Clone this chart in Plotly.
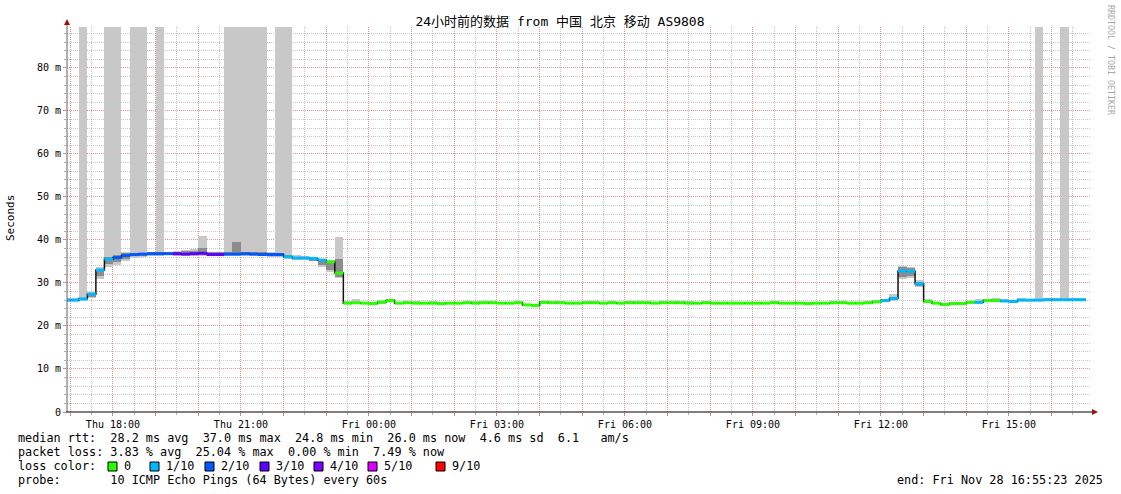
import plotly.graph_objects as go
from datetime import datetime, timedelta

# ---------------- data ----------------
end_time = datetime(2025, 11, 28, 16, 55, 23)
start_time = end_time - timedelta(hours=24)
first_bin = datetime(2025, 11, 27, 16, 48)
step_minutes = 12

median_ms = [
    26.0, 26.0, 26.3, 27.4, 33.0, 35.5, 35.9, 36.4, 36.6, 36.7,
    36.8, 36.8, 36.8, 36.8, 36.7, 36.8, 36.9, 36.6, 36.6, 36.7,
    36.7, 36.8, 36.7, 36.6, 36.6, 36.6, 36.1, 35.8, 35.8, 35.7,
    35.3, 34.9, 32.3, 25.3, 25.4, 25.3, 25.2, 25.5, 25.9, 25.3,
    25.4, 25.3, 25.3, 25.3, 25.2, 25.3, 25.3, 25.4, 25.3, 25.4,
    25.4, 25.3, 25.3, 25.4, 24.9, 24.8, 25.5, 25.4, 25.4, 25.3,
    25.3, 25.4, 25.4, 25.3, 25.4, 25.3, 25.4, 25.4, 25.4, 25.3,
    25.4, 25.4, 25.4, 25.3, 25.3, 25.4, 25.3, 25.3, 25.3, 25.3,
    25.3, 25.3, 25.3, 25.4, 25.3, 25.3, 25.3, 25.2, 25.3, 25.3,
    25.4, 25.4, 25.3, 25.3, 25.4, 25.6, 25.9, 26.4, 32.8, 32.7,
    29.8, 25.7, 25.3, 25.0, 25.2, 25.2, 25.5, 25.5, 25.9, 25.9,
    25.8, 25.7, 26.0, 26.0, 26.0, 26.1, 26.1, 26.1, 26.1, 26.1,
]

loss_tenths = [
    1, 1, 1, 1, 1, 1, 2, 2, 2, 2,
    2, 2, 2, 3, 3, 3, 3, 3, 3, 2,
    2, 2, 2, 2, 2, 2, 1, 1, 1, 1,
    1, 0, 0, 0, 0, 0, 0, 0, 0, 0,
    0, 0, 0, 0, 0, 0, 0, 0, 0, 0,
    0, 0, 0, 0, 0, 0, 0, 0, 0, 0,
    0, 0, 0, 0, 0, 0, 0, 0, 0, 0,
    0, 0, 0, 0, 0, 0, 0, 0, 0, 0,
    0, 0, 0, 0, 0, 0, 0, 0, 0, 0,
    0, 0, 0, 0, 0, 0, 1, 1, 1, 1,
    1, 0, 0, 0, 0, 0, 0, 1, 0, 0,
    1, 1, 1, 1, 1, 1, 1, 1, 1, 1,
]

# light smoke (full ping spread); 100 = outlier above the visible range
smoke_lo = [
    25.8, 25.7, 25.9, 26.4, 30.9, 33.8, 34.2, 35.0, 35.8, 36.0,
    36.2, 36.3, 36.4, 36.3, 36.2, 36.2, 36.3, 36.2, 36.2, 36.2,
    36.2, 36.2, 36.2, 36.2, 36.1, 36.1, 35.6, 35.3, 35.3, 35.0,
    33.8, 32.6, 31.1, 25.0, 25.1, 25.0, 25.0, 25.2, 25.5, 25.0,
    25.1, 25.0, 25.0, 25.0, 25.0, 25.0, 25.0, 25.1, 25.0, 25.1,
    25.1, 25.0, 25.0, 25.1, 24.6, 24.5, 25.2, 25.1, 25.1, 25.0,
    25.0, 25.1, 25.1, 25.0, 25.1, 25.0, 25.1, 25.1, 25.1, 25.0,
    25.1, 25.1, 25.1, 25.0, 25.0, 25.1, 25.0, 25.0, 25.0, 25.0,
    25.0, 25.0, 25.0, 25.1, 25.0, 25.0, 25.0, 25.0, 25.0, 25.0,
    25.1, 25.1, 25.0, 25.0, 25.1, 25.3, 25.5, 25.9, 30.9, 31.2,
    29.0, 25.4, 25.0, 24.8, 25.0, 25.0, 25.2, 25.2, 25.6, 25.6,
    25.5, 25.4, 25.7, 25.7, 25.7, 25.8, 25.8, 25.8, 25.8, 25.8,
]
smoke_hi = [
    26.4, 26.6, 100, 27.9, 33.6, 100, 100, 37.2, 100, 100,
    37.2, 100, 37.3, 37.4, 37.6, 38.0, 41.0, 37.3, 37.3, 100,
    100, 100, 100, 100, 37.2, 100, 100, 36.4, 36.2, 36.0,
    35.6, 35.4, 40.7, 25.8, 26.2, 25.6, 25.5, 26.0, 26.2, 25.6,
    25.7, 25.7, 25.6, 25.8, 25.5, 25.6, 25.6, 25.9, 25.7, 25.8,
    25.7, 25.6, 25.6, 25.7, 25.2, 25.1, 25.8, 25.7, 25.9, 25.6,
    25.6, 25.7, 25.7, 25.6, 25.7, 25.6, 25.7, 25.8, 25.7, 25.6,
    25.7, 25.7, 25.7, 25.8, 25.6, 25.7, 25.6, 25.6, 25.6, 25.6,
    25.6, 25.6, 25.6, 25.7, 25.6, 25.6, 25.6, 25.5, 25.6, 25.6,
    25.7, 25.7, 25.6, 25.6, 25.8, 26.0, 26.3, 27.4, 34.0, 33.8,
    30.6, 26.3, 25.6, 25.3, 25.5, 25.5, 25.8, 26.2, 26.2, 26.4,
    26.2, 26.0, 26.4, 26.3, 100, 26.4, 26.4, 100, 26.4, 26.4,
]
# darker core of the smoke
core_lo = [
    None, 25.9, 26.0, 26.8, 31.6, 34.4, 34.8, 35.5, 36.2, 36.3,
    36.4, 36.5, 36.5, 36.5, 36.4, 36.4, 36.5, 36.4, 36.4, 36.4,
    36.4, 36.4, 36.4, 36.4, 36.3, 36.3, 35.8, 35.5, None, 35.2,
    34.2, 33.0, 31.5, None, None, None, None, None, None, None,
    None, None, None, None, None, None, None, None, None, None,
    None, None, None, None, None, None, None, None, None, None,
    None, None, None, None, None, None, None, None, None, None,
    None, None, None, None, None, None, None, None, None, None,
    None, None, None, None, None, None, None, None, None, None,
    None, None, None, None, None, None, None, 26.1, 31.3, 31.6,
    29.3, None, None, None, None, None, None, None, None, None,
    None, None, None, None, None, None, None, None, None, None,
]
core_hi = [
    None, 26.3, 26.6, 27.7, 33.3, 36.0, 36.6, 36.9, 37.0, 37.0,
    37.1, 37.1, 37.1, 37.2, 37.4, 37.5, 38.1, 37.1, 37.1, 37.1,
    39.5, 37.2, 37.1, 37.1, 37.0, 37.0, 36.5, 36.1, None, 35.9,
    35.5, 35.2, 35.5, None, None, None, None, None, None, None,
    None, None, None, None, None, None, None, None, None, None,
    None, None, None, None, None, None, None, None, None, None,
    None, None, None, None, None, None, None, None, None, None,
    None, None, None, None, None, None, None, None, None, None,
    None, None, None, None, None, None, None, None, None, None,
    None, None, None, None, None, None, None, 26.8, 33.6, 33.4,
    30.3, None, None, None, None, None, None, None, None, None,
    None, None, None, None, None, None, None, None, None, None,
]

loss_colors = {0: "#26ff00", 1: "#00b8ff", 2: "#0059ff", 3: "#5e00ff",
               4: "#7e00ff", 5: "#dd00ff", 9: "#ff0000"}
legend_losses = [0, 1, 2, 3, 4, 5, 9]

x_tick_labels = ["Thu 18:00", "Thu 21:00", "Fri 00:00", "Fri 03:00",
                 "Fri 06:00", "Fri 09:00", "Fri 12:00", "Fri 15:00"]
y_tick_values = [0, 10, 20, 30, 40, 50, 60, 70, 80]

title_text = "24小时前的数据 from 中国 北京 移动 AS9808"
stats_rtt = "median rtt:  28.2 ms avg  37.0 ms max  24.8 ms min  26.0 ms now  4.6 ms sd  6.1   am/s"
stats_loss = "packet loss: 3.83 % avg  25.04 % max  0.00 % min  7.49 % now"
probe_text = "probe:       10 ICMP Echo Pings (64 Bytes) every 60s"
end_text = "end: Fri Nov 28 16:55:23 2025"

# ---------------- geometry ----------------
W, H = 1121, 494
ML, MR, MT, MB = 67, 30, 27, 82
PW, PH = W - ML - MR, H - MT - MB
Y_MAX = 89.5
MONO = "DejaVu Sans Mono"


def px(xp):
    return (xp - ML) / PW


def py(yp):
    return (H - MB - yp) / PH


n = len(median_ms)
bin_starts = [first_bin + timedelta(minutes=step_minutes * i) for i in range(n)]
bin_ends = [b + timedelta(minutes=step_minutes) for b in bin_starts]
bin_centers = [b + timedelta(minutes=step_minutes / 2) for b in bin_starts]
bin_width_ms = step_minutes * 60 * 1000

fig = go.Figure()

# light smoke
fig.add_trace(go.Bar(
    x=bin_centers, base=smoke_lo,
    y=[h - l for h, l in zip(smoke_hi, smoke_lo)],
    width=bin_width_ms, marker=dict(color="#c8c8c8", line=dict(width=0)),
    hoverinfo="skip", showlegend=False))
# dark core
fig.add_trace(go.Bar(
    x=bin_centers, base=core_lo,
    y=[(h - l) if h is not None else None for h, l in zip(core_hi, core_lo)],
    width=bin_width_ms, marker=dict(color="#8c8c8c", line=dict(width=0)),
    hoverinfo="skip", showlegend=False))
# black step line connecting medians
fig.add_trace(go.Scatter(
    x=bin_starts + [bin_ends[-1]],
    y=median_ms + [median_ms[-1]],
    mode="lines", line=dict(color="#111111", width=1.5, shape="hv"),
    hoverinfo="skip", showlegend=False))
# coloured median segments, one trace per loss level
for lv, col in loss_colors.items():
    xs, ys = [], []
    for s, e, m, l in zip(bin_starts, bin_ends, median_ms, loss_tenths):
        if l == lv:
            xs += [s, e, None]
            ys += [m, m, None]
    if xs:
        fig.add_trace(go.Scatter(
            x=xs, y=ys, mode="lines", line=dict(color=col, width=3),
            hoverinfo="skip", showlegend=False))

# hourly ticks with labels every 3 hours
hour_ticks = []
t = start_time.replace(minute=0, second=0) + timedelta(hours=1)
while t < end_time:
    hour_ticks.append(t)
    t += timedelta(hours=1)
label_iter = iter(x_tick_labels)
hour_text = []
for t in hour_ticks:
    hour_text.append(next(label_iter) if t.hour % 3 == 0 else "")

red_grid = "rgba(235,120,120,0.65)"
gray_grid = "rgba(170,170,170,0.65)"
red_tick = "#e08080"
gray_tick = "#b0b0b0"

fig.update_layout(
    width=W, height=H, barmode="overlay", bargap=0,
    margin=dict(l=ML, r=MR, t=MT, b=MB),
    paper_bgcolor="white", plot_bgcolor="white",
    font=dict(family=MONO, size=10, color="#000"),
    showlegend=False,
    title=dict(text=title_text, x=560 / W, xanchor="center", y=1 - 21 / H,
               yanchor="middle", yref="container",
               font=dict(family=MONO + ", Noto Sans CJK SC", size=13, color="#000")),
    xaxis=dict(
        type="date", range=[start_time, end_time],
        tickmode="array", tickvals=hour_ticks, ticktext=hour_text,
        showgrid=True, gridcolor=red_grid, griddash="1px,1px", gridwidth=1,
        ticks="outside", ticklen=3, tickcolor=red_tick,
        tickfont=dict(family=MONO, size=10, color="#000"),
        showline=False, zeroline=False,
        minor=dict(dtick=30 * 60 * 1000, tick0="2025-11-27 00:30",
                   showgrid=True, gridcolor=gray_grid, griddash="1px,1px",
                   ticks="outside", ticklen=2, tickcolor=gray_tick),
    ),
    yaxis=dict(
        range=[0, Y_MAX], tickmode="array", tickvals=y_tick_values,
        ticktext=[("%d m" % v) if v else "0" for v in y_tick_values],
        showgrid=True, gridcolor=red_grid, griddash="1px,1px",
        ticks="outside", ticklen=3, tickcolor=red_tick,
        tickfont=dict(family=MONO, size=10, color="#000"),
        showline=False, zeroline=False,
        minor=dict(dtick=2, showgrid=True, gridcolor=gray_grid, griddash="1px,1px",
                   ticks="outside", ticklen=2, tickcolor=gray_tick),
    ),
)

# axis lines with arrow heads
fig.add_shape(type="line", xref="paper", yref="paper",
              x0=0, x1=0, y0=0, y1=py(22), line=dict(color="#606060", width=1))
fig.add_shape(type="line", xref="paper", yref="paper",
              x0=px(66), x1=px(1093), y0=0, y1=0, line=dict(color="#000", width=1))
fig.add_shape(type="path", xref="paper", yref="paper",
              path="M %f %f L %f %f L %f %f Z" % (px(64), py(25), px(70), py(25), px(67), py(19)),
              fillcolor="#a01010", line=dict(width=0))
fig.add_shape(type="path", xref="paper", yref="paper",
              path="M %f %f L %f %f L %f %f Z" % (px(1092), py(409), px(1092), py(415), px(1098), py(412)),
              fillcolor="#a01010", line=dict(width=0))

# axis title and watermark
fig.add_annotation(text="Seconds", xref="paper", yref="paper", x=px(10), y=py(218),
                   xanchor="center", yanchor="middle",
                   showarrow=False, textangle=-90, font=dict(family=MONO, size=11))
fig.add_annotation(text="RRDTOOL / TOBI OETIKER", xref="paper", yref="paper",
                   x=px(1111), y=py(60), xanchor="center", yanchor="middle",
                   showarrow=False, textangle=90,
                   font=dict(family=MONO, size=8.3, color="#a8a8a8"))

nb = "\u00a0"
legend_font = dict(family=MONO, size=11.8, color="#000")
for txt, yy in [(stats_rtt, 438), (stats_loss, 452), ("loss color:", 466), (probe_text, 480)]:
    fig.add_annotation(text=txt.replace(" ", nb), xref="paper", yref="paper",
                       x=px(16), y=py(yy), xanchor="left", yanchor="middle",
                       showarrow=False, font=legend_font)
fig.add_annotation(text=end_text.replace(" ", nb), xref="paper", yref="paper",
                   x=px(1105), y=py(480), xanchor="right", yanchor="middle",
                   showarrow=False, font=legend_font)

# loss colour legend boxes
box_x = [108, 150, 205, 260, 314, 368, 436]
for lv, bx in zip(legend_losses, box_x):
    fig.add_shape(type="rect", xref="paper", yref="paper",
                  x0=px(bx), x1=px(bx + 9), y0=py(471), y1=py(462),
                  fillcolor=loss_colors[lv], line=dict(color="#000", width=1))
    label = "0" if lv == 0 else "%d/10" % lv
    fig.add_annotation(text=label, xref="paper", yref="paper",
                       x=px(bx + 14), y=py(466), xanchor="left", yanchor="middle",
                       showarrow=False, font=legend_font)

fig.write_html("out.html", post_script="document.body.style.margin='0px';",
               config={"displayModeBar": False})
